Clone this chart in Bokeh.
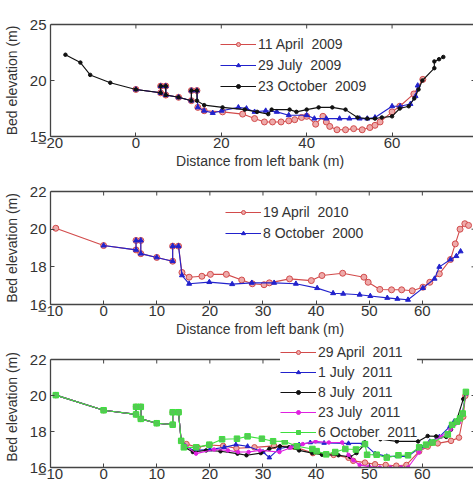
from bokeh.plotting import figure
from bokeh.models import Range1d, FixedTicker, Legend, LegendItem
from bokeh.layouts import column
from bokeh.embed import file_html
from bokeh.resources import INLINE

# ---------------- Panel 1 (2009) ----------------
oct09_x = [-16.5, -13.0, -10.7, -6.0, 0, 5.8, 5.8, 7, 7, 10, 13, 13, 14.3, 14.3, 16, 20.3, 25.5, 28.4, 31, 31.8,
           36, 37.6, 40, 42.8, 46, 49.1, 51.9, 54.2, 56, 57.6, 60, 61.8, 63.9, 65.2, 66.2, 67.1, 69.9, 69.9, 71, 72]
oct09_y = [22.3, 21.6, 20.5, 19.8, 19.2, 18.9, 19.5, 19.5, 18.7, 18.5, 18.2, 19.1, 19.1, 18.2, 17.8, 17.6, 17.4, 17.2, 17.0, 17.4,
           17.4, 17.2, 17.4, 17.6, 17.6, 17.4, 16.7, 16.6, 16.6, 16.7, 16.8, 17.5, 17.7, 18.4, 19.2, 20.0, 21.1, 21.7, 21.9, 22.1]

apr09_x = [0, 5.8, 5.8, 7, 7, 10, 13, 13, 14.3, 14.5, 16, 20.3, 25.0, 27.8, 30.1, 32, 34, 35.8, 37.2, 38.8, 40,
           42.1, 43.8, 44.6, 45.4, 47.1, 49.1, 51, 53, 54.8, 56, 57.2, 60, 61.8, 65.1, 67.2]
apr09_y = [19.2, 18.9, 19.5, 19.5, 18.7, 18.5, 18.2, 19.1, 19.1, 17.6, 17.3, 17.2, 17.0, 16.6, 16.3, 16.3, 16.3, 16.4, 16.5, 16.7, 16.8,
           16.1, 16.8, 16.3, 15.9, 15.6, 15.6, 15.7, 15.6, 15.8, 16.0, 16.3, 17.2, 17.7, 18.8, 20.1]

jul09_x = [0, 5.8, 5.8, 7, 7, 10, 13, 13, 14.3, 14.5, 16, 18, 20.1, 24, 25.9, 27.8, 30.4, 33, 35.8, 40, 41.8,
           44.6, 47.7, 50, 52.4, 54.2, 56, 60, 61.9, 64.3, 65.5, 66]
jul09_y = [19.2, 18.9, 19.5, 19.5, 18.7, 18.5, 18.2, 19.1, 19.1, 17.6, 17.3, 17.1, 17.3, 17.6, 17.5, 17.2, 17.3, 17.2, 16.9, 16.9, 16.6,
           16.6, 16.6, 16.6, 16.6, 16.6, 16.7, 17.7, 17.7, 17.9, 18.6, 19.55]

# ---------------- Panel 2 (2010 / 2000) ----------------
bank10_x = [-9, 0, 6.1, 6.1, 7, 7, 10, 13, 13, 14.1]
bank10_y = [20.05, 19.13, 18.9, 19.4, 19.4, 18.7, 18.5, 18.3, 19.1, 19.1]

apr10_x = [14.75, 16.1, 18.5, 20.1, 23.1, 26, 28, 30.2, 31.2, 35, 39.1, 41.1, 45, 49, 49.8, 52, 54.2, 56.1, 58.1,
           60.1, 61.4, 63.2, 65.3, 66.2, 67.1, 68.0, 68.7]
apr10_y = [17.7, 17.45, 17.5, 17.6, 17.6, 17.3, 17.1, 17.05, 17.15, 17.36, 17.27, 17.54, 17.66, 17.45, 17.18, 16.8, 16.78, 16.78, 16.73,
           16.92, 17.18, 17.63, 18.39, 19.22, 20.0, 20.29, 20.2]

oct00_x = [14.75, 16.1, 19.9, 24.2, 27.9, 32.1, 36.2, 40.2, 43.2, 45.1, 48.2, 50.2, 53.4, 55.3, 57.3, 60.1, 62.3,
           63.2, 65.3, 66.4, 67.2]
oct00_y = [17.55, 17.1, 17.19, 17.08, 17.15, 17.15, 17.1, 16.87, 16.6, 16.57, 16.52, 16.45, 16.35, 16.3, 16.25, 16.87, 17.37,
           18.0, 18.39, 18.57, 18.82]

# ---------------- Panel 3 (2011) ----------------
bank11_x = [-9, 0, 6.1, 6.1, 7, 7, 10, 13, 13, 14.1, 14.6]
bank11_y = [20.02, 19.18, 18.95, 19.37, 19.37, 18.7, 18.46, 18.38, 19.07, 19.07, 17.48]

apr11_x = [15.6, 17.7, 19.9, 22.5, 25, 28.4, 32.1, 35.8, 39.4, 43.3, 46.1, 47.0, 49.2, 51.1, 53.1, 55.1, 57.0,
           59.4, 61.0, 62.9, 65.4, 66.9, 67.7, 68.1]
apr11_y = [17.3, 17.12, 17.25, 17.2, 17.07, 17.12, 17.2, 17.16, 16.8, 16.7, 16.54, 16.37, 16.27, 16.18, 16.14, 16.1, 16.14,
           16.89, 17.16, 17.34, 17.48, 17.66, 18.82, 19.98]

jul1_11_x = [15.3, 17.0, 20.0, 22.7, 24.9, 27.1, 30.0, 31.2, 33.0, 36.8, 38.9, 41.5, 46.1, 48.9, 49.2, 51.1, 53.3,
             55.3, 57.3, 59.8, 61.4, 63.2, 65.2, 66.0, 67.5, 68.2]
jul1_11_y = [17.2, 16.95, 17.0, 17.12, 17.27, 17.18, 16.86, 16.55, 17.04, 17.27, 17.39, 17.36, 17.34, 17.34, 17.27, 16.77, 16.62,
             16.62, 16.62, 17.16, 17.45, 17.7, 18.29, 18.57, 18.96, 20.1]

jul8_11_x = [15.4, 16.8, 19.3, 22.0, 25.2, 26.9, 29.6, 31.2, 33.2, 34.9, 36.8, 39.3, 41.1, 44.2, 46.4, 47.6, 49.2,
             49.2, 52.1, 55.2, 59.2, 61.0, 62.6, 64.5, 65.4, 66.4, 67.7, 68.2]
jul8_11_y = [17.1, 16.86, 16.95, 16.9, 16.77, 16.68, 16.8, 17.04, 17.18, 17.12, 16.95, 16.8, 16.71, 16.68, 16.59, 16.8, 17.3,
             17.62, 17.57, 17.45, 17.45, 17.75, 17.73, 17.7, 18.1, 18.57, 19.8, 20.2]

jul23_11_x = [15.5, 17.4, 20.8, 23.4, 25.3, 27.3, 29.4, 33.1, 35.2, 37.5, 39.9, 42.4, 44.9, 46.1, 47.0, 48.2, 50.0,
              52.0, 54.0, 56.0, 57.3, 59.4, 61.4, 63.5, 65.3, 66.9, 67.5, 68.2]
jul23_11_y = [17.2, 16.77, 17.0, 16.95, 16.86, 16.86, 16.95, 16.86, 17.1, 17.3, 17.45, 17.39, 17.39, 16.7, 16.4, 16.14, 16.05,
              16.0, 16.0, 16.0, 16.0, 16.85, 17.4, 17.7, 18.1, 18.5, 18.9, 20.1]

oct11_x = [15.1, 17.4, 19.9, 22.3, 25.1, 27.1, 29.8, 31.9, 34.1, 36.4, 39.3, 40.1, 41.9, 43.6, 45.5, 47.5, 49.2,
           49.6, 51.4, 53.3, 55.5, 57.3, 59.4, 60.7, 61.9, 64.8, 65.6, 66.5, 67.1, 67.6, 68.2]
oct11_y = [17.12, 17.12, 17.27, 17.57, 17.6, 17.73, 17.6, 17.46, 17.45, 17.18, 17.03, 16.91, 16.73, 16.86, 17.03, 17.0, 17.3,
           16.71, 16.71, 16.55, 16.68, 16.68, 17.12, 17.27, 17.39, 17.84, 18.37, 18.55, 18.73, 19.0, 20.2]

labels_p1 = ["11 April  2009", "29 July  2009", "23 October  2009"]
labels_p2 = ["19 April  2010", "8 October  2000"]
labels_p3 = ["29 April  2011", "1 July  2011", "8 July  2011", "23 July  2011", "6 October  2011"]
x_title = "Distance from left bank  (m)"
y_title = "Bed elevation  (m)"

ticks_x1 = [-20, 0, 20, 40, 60, 80]
ticks_y1 = [15, 20, 25]
ticks_x23 = [-10, 0, 10, 20, 30, 40, 50, 60, 70]
ticks_y23 = [16, 18, 20, 22]

FONT = "Liberation Sans"
AXC = "#444444"
TXT = "#333333"

RED = "#d24b4b"
BLUE = "#2222cc"
BLACK = "#111111"
MAG = "#e020e0"
GREEN = "#3ee03e"


def make_fig(height, top, bottom, frame_h, xr, ylo, yhi, px_per_y, xticks, yticks, xlabel):
    yend = ylo + frame_h / px_per_y
    p = figure(width=473, height=height, x_range=Range1d(*xr), y_range=Range1d(ylo, yend),
               output_backend="svg", toolbar_location=None,
               min_border_left=47, min_border_right=0, min_border_top=top, min_border_bottom=bottom)
    p.outline_line_color = None
    p.xgrid.visible = False
    p.ygrid.visible = False
    p.background_fill_color = "white"
    p.border_fill_color = "white"
    for ax, ticks in ((p.xaxis[0], xticks), (p.yaxis[0], yticks)):
        ax.ticker = FixedTicker(ticks=ticks)
        ax.major_tick_in = 4
        ax.major_tick_out = 0
        ax.major_tick_line_color = AXC
        ax.minor_tick_line_color = None
        ax.axis_line_color = AXC
        ax.axis_line_width = 1.3
        ax.major_label_text_font = FONT
        ax.major_label_text_font_size = "15px"
        ax.major_label_text_color = TXT
        ax.axis_label_text_font = FONT
        ax.axis_label_text_font_size = "14px"
        ax.axis_label_text_font_style = "normal"
        ax.axis_label_text_color = TXT
    p.yaxis[0].bounds = (ylo, yhi)
    p.xaxis[0].major_label_standoff = 1
    p.yaxis[0].major_label_standoff = 4
    p.yaxis[0].axis_label = y_title
    p.yaxis[0].axis_label_standoff = 7
    if xlabel:
        p.xaxis[0].axis_label = x_title
        p.xaxis[0].axis_label_standoff = 2
    x0, x1 = xr
    ppx = 426.0 / (x1 - x0)
    p.segment(x0=[x0], y0=[yhi], x1=[x1], y1=[yhi], line_color=AXC, line_width=1.3)
    tx = [t for t in xticks if x0 < t < x1]
    p.segment(x0=tx, y0=[yhi] * len(tx), x1=tx, y1=[yhi - 4.0 / px_per_y] * len(tx),
              line_color=AXC, line_width=1)
    ty = [t for t in yticks if ylo < t < yhi]
    p.segment(x0=[x1 - 2.0 / ppx] * len(ty), y0=ty, x1=[x1] * len(ty), y1=ty, line_color=AXC, line_width=1)
    return p


def series(p, xs, ys, color, marker, size, fill):
    l = p.line(xs, ys, line_color=color, line_width=1.1)
    s = p.scatter(xs, ys, marker=marker, size=size, line_color=color, fill_color=fill, line_width=1)
    return [l, s]


def add_legend(p, items, x, y, sp):
    leg = Legend(items=items, location=(x, y), border_line_color=None,
                 background_fill_color="white", background_fill_alpha=1.0,
                 label_text_font=FONT, label_text_font_size="14px", label_text_color=TXT,
                 glyph_width=36, glyph_height=10, label_height=14, spacing=sp,
                 padding=0, margin=0, label_standoff=2)
    p.add_layout(leg)


# Panel 1: figure y 0..176, frame 20..136
p1 = make_fig(176, 20, 40, 116, (-20, 79.07), 15, 25, 11.2, ticks_x1, ticks_y1, True)
r_a = series(p1, apr09_x, apr09_y, RED, "circle", 6, "#eeaaaa")
r_b = series(p1, jul09_x, jul09_y, BLUE, "triangle", 5, BLUE)
r_c = series(p1, oct09_x, oct09_y, BLACK, "circle", 3.5, BLACK)
add_legend(p1, [LegendItem(label=labels_p1[0], renderers=r_a),
                LegendItem(label=labels_p1[1], renderers=r_b),
                LegendItem(label=labels_p1[2], renderers=r_c)], 170, 42, 5)

# Panel 2: figure y 176..342, frame 187..304
p2 = make_fig(166, 11, 38, 117, (-10, 69.63), 16, 22, 18.83, ticks_x23, ticks_y23, True)
r_d = series(p2, bank10_x + apr10_x, bank10_y + apr10_y, RED, "circle", 6, "#eeaaaa")
r_e = series(p2, bank10_x[1:] + oct00_x, bank10_y[1:] + oct00_y, BLUE, "triangle", 5, BLUE)
add_legend(p2, [LegendItem(label=labels_p2[0], renderers=r_d),
                LegendItem(label=labels_p2[1], renderers=r_e)], 175, 63, 5)

# Panel 3: figure y 342..485, frame 342..467
p3 = make_fig(143, 0, 18, 125, (-10, 69.63), 16, 22, 18.0, ticks_x23, ticks_y23, False)
r_f = series(p3, bank11_x + apr11_x, bank11_y + apr11_y, RED, "circle", 5.5, "#eeaaaa")
r_g = series(p3, bank11_x + jul1_11_x, bank11_y + jul1_11_y, BLUE, "triangle", 4.5, BLUE)
r_h = series(p3, bank11_x + jul8_11_x, bank11_y + jul8_11_y, BLACK, "circle", 3.5, BLACK)
r_i = series(p3, bank11_x + jul23_11_x, bank11_y + jul23_11_y, MAG, "circle", 3.5, MAG)
r_j = series(p3, bank11_x + oct11_x, bank11_y + oct11_y, GREEN, "square", 5.5, "#55c855")
add_legend(p3, [LegendItem(label=labels_p3[0], renderers=r_f),
                LegendItem(label=labels_p3[1], renderers=r_g),
                LegendItem(label=labels_p3[2], renderers=r_h),
                LegendItem(label=labels_p3[3], renderers=r_i),
                LegendItem(label=labels_p3[4], renderers=r_j)], 230, 27, 4)

layout = column(p1, p2, p3, spacing=0)
open("out.html", "w").write(file_html(layout, INLINE))
